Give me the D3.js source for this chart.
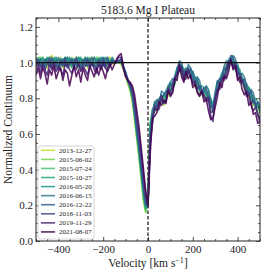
<!DOCTYPE html>
<html>
<head>
<meta charset="utf-8">
<script src="https://cdn.jsdelivr.net/npm/d3@7"></script>
<style>
  body { margin: 0; background: #fff; }
  text { font-family: "Liberation Serif", "DejaVu Serif", serif; fill: #222; }
</style>
</head>
<body>
<div class="chart"></div>
<script>
// velocity grid (km/s), 10 km/s steps
var velocity = [
  -500,-490,-480,-470,-460,-450,-440,-430,-420,-410,
  -400,-390,-380,-370,-360,-350,-340,-330,-320,-310,
  -300,-290,-280,-270,-260,-250,-240,-230,-220,-210,
  -200,-190,-180,-170,-160,-150,-140,-130,-120,-110,
  -100,-90,-80,-70,-60,-50,-40,-30,-20,-10,
  0,10,20,30,40,50,60,70,80,90,
  100,110,120,130,140,150,160,170,180,190,
  200,210,220,230,240,250,260,270,280,290,
  300,310,320,330,340,350,360,370,380,390,
  400,410,420,430,440,450,460,470,480,490,
  500
];

var epochs = ["2013-12-27","2015-06-02","2015-07-24","2015-10-27","2016-05-20",
              "2016-06-15","2016-12-22","2018-11-03","2019-11-29","2021-08-07"];

// continuum (-500..-160), line core (-150..0), red side (10..500)
var flux_20131227 = [
  1.02,0.98,1.01,1.03,0.99,0.97,1.02,1.04,0.99,0.98,
  1.02,1.00,0.97,1.01,1.03,1.00,0.98,1.01,1.03,0.99,
  0.98,1.02,1.00,0.97,1.01,1.03,1.00,0.98,1.01,1.02,
  0.99,0.98,1.02,1.03,0.99,
  1.00,1.00,1.00,0.99,0.96,0.92,0.88,0.84,0.78,0.68,0.57,0.46,0.34,0.22,0.16,0.24,
  0.64,0.74,0.72,0.77,0.75,0.80,0.76,0.82,0.81,0.86,
  0.84,0.90,0.92,0.98,0.94,0.93,0.91,0.95,0.92,0.92,
  0.86,0.88,0.84,0.84,0.80,0.83,0.79,0.77,0.72,0.80,
  0.84,0.89,0.89,0.94,0.95,0.99,0.99,1.00,0.96,0.96,
  0.90,0.90,0.85,0.86,0.80,0.81,0.76,0.77,0.72,0.73
];
var flux_20150602 = [
  0.99,1.03,0.99,0.98,1.02,0.99,1.03,1.00,0.97,1.02,
  0.99,1.03,0.98,1.02,1.00,0.98,1.03,1.01,0.99,0.97,
  1.02,0.99,1.03,1.00,0.98,1.02,0.99,1.03,0.98,1.00,
  1.02,0.99,0.97,1.02,1.00,
  1.01,1.00,1.01,1.00,0.97,0.93,0.89,0.85,0.79,0.69,0.58,0.47,0.35,0.23,0.16,0.25,
  0.65,0.70,0.77,0.74,0.79,0.78,0.81,0.79,0.86,0.83,
  0.89,0.88,0.96,0.95,0.98,0.91,0.96,0.93,0.95,0.90,
  0.91,0.86,0.88,0.82,0.85,0.81,0.83,0.75,0.76,0.78,
  0.88,0.86,0.93,0.92,0.99,0.97,1.02,0.98,0.99,0.93,
  0.95,0.88,0.90,0.83,0.85,0.78,0.81,0.75,0.77,0.71
];
var flux_20150724 = [
  0.98,1.02,1.03,0.99,0.98,1.02,1.00,0.98,1.03,0.99,
  1.02,0.98,1.00,1.03,1.01,0.99,0.97,1.01,1.02,1.03,
  0.99,0.98,1.02,1.00,1.03,0.99,0.98,1.02,1.03,0.99,
  0.98,1.02,1.00,0.99,1.02,
  1.00,1.01,1.00,1.00,0.97,0.93,0.89,0.85,0.80,0.70,0.59,0.48,0.36,0.24,0.17,0.26,
  0.67,0.74,0.73,0.75,0.79,0.82,0.77,0.80,0.86,0.88,
  0.85,0.88,0.95,1.00,0.94,0.91,0.96,0.97,0.92,0.90,
  0.91,0.90,0.84,0.82,0.85,0.85,0.79,0.75,0.76,0.83,
  0.84,0.87,0.93,0.96,0.95,0.97,1.02,1.02,0.96,0.94,
  0.95,0.92,0.86,0.84,0.85,0.83,0.77,0.75,0.77,0.74
];
var flux_20151027 = [
  1.02,0.99,1.02,0.98,1.00,1.03,0.98,1.02,0.99,1.02,
  0.98,1.00,1.02,0.98,1.03,0.99,1.02,0.98,1.00,1.02,
  1.03,0.99,0.98,1.02,1.00,0.98,1.03,0.99,1.02,0.98,
  1.02,1.03,0.99,0.98,1.02,
  1.00,1.00,1.01,1.01,0.97,0.94,0.90,0.86,0.81,0.71,0.60,0.50,0.38,0.26,0.18,0.24,
  0.65,0.71,0.74,0.79,0.80,0.79,0.78,0.84,0.87,0.84,
  0.86,0.93,0.97,0.96,0.95,0.96,0.97,0.94,0.92,0.95,
  0.92,0.87,0.85,0.87,0.86,0.82,0.80,0.80,0.77,0.79,
  0.85,0.91,0.94,0.93,0.96,1.02,1.03,0.99,0.97,0.98,
  0.96,0.89,0.87,0.88,0.86,0.80,0.78,0.80,0.78,0.72
];
var flux_20160520 = [
  0.99,1.02,0.98,1.03,0.99,1.02,1.00,0.98,1.02,1.03,
  0.99,0.98,1.02,1.00,1.03,1.01,0.98,1.02,0.99,1.03,
  0.98,1.02,1.00,1.03,1.01,0.99,0.98,1.02,1.00,1.03,
  0.99,0.98,1.02,1.00,1.03,
  1.01,1.01,1.00,1.02,0.98,0.94,0.90,0.87,0.82,0.72,0.61,0.51,0.39,0.27,0.19,0.22,
  0.63,0.70,0.78,0.79,0.77,0.79,0.82,0.81,0.87,0.89,
  0.86,0.89,0.97,0.97,0.99,0.96,0.93,0.94,0.97,0.91,
  0.92,0.91,0.85,0.83,0.86,0.82,0.84,0.80,0.73,0.80,
  0.89,0.88,0.94,0.97,0.96,0.98,1.03,0.99,1.01,0.99,
  0.92,0.89,0.91,0.85,0.86,0.84,0.78,0.76,0.78,0.72
];
var flux_20160615 = [
  1.03,0.99,1.02,1.00,0.98,1.02,1.03,0.99,1.02,0.98,
  1.03,0.99,1.02,0.98,1.00,1.03,0.99,1.02,0.98,1.00,
  1.02,0.99,1.03,0.98,1.02,0.99,1.03,1.00,0.98,1.02,
  1.03,0.99,1.02,0.98,1.00,
  1.00,1.01,1.01,1.02,0.98,0.95,0.91,0.88,0.83,0.73,0.62,0.52,0.40,0.28,0.20,0.21,
  0.60,0.73,0.78,0.76,0.77,0.84,0.83,0.81,0.84,0.89,
  0.91,0.90,0.94,1.01,1.00,0.93,0.94,0.99,0.97,0.92,
  0.89,0.92,0.90,0.84,0.83,0.87,0.85,0.77,0.74,0.84,
  0.90,0.88,0.91,0.98,1.01,0.99,1.00,1.04,1.02,0.95,
  0.93,0.94,0.92,0.85,0.83,0.85,0.83,0.77,0.75,0.76
];
var flux_20161222 = [
  0.99,1.02,0.99,0.97,1.02,1.00,0.98,1.03,0.99,1.01,
  0.97,1.02,0.99,1.03,0.98,1.00,1.02,0.98,1.03,0.99,
  0.98,1.01,1.02,0.98,1.00,1.03,0.99,0.97,1.02,1.00,
  0.98,1.02,1.03,0.99,1.02,
  1.00,1.00,1.01,1.01,0.97,0.94,0.90,0.87,0.82,0.73,0.63,0.53,0.42,0.30,0.21,0.21,
  0.59,0.72,0.73,0.79,0.76,0.79,0.82,0.84,0.83,0.88,
  0.86,0.89,0.97,1.00,0.95,0.96,0.93,0.94,0.96,0.95,
  0.88,0.91,0.85,0.83,0.86,0.86,0.80,0.79,0.72,0.79,
  0.89,0.91,0.90,0.97,0.96,0.98,1.04,1.03,0.97,0.98,
  0.92,0.89,0.91,0.88,0.82,0.84,0.78,0.76,0.78,0.76
];
var flux_20181103 = [
  0.98,1.01,0.97,1.00,0.96,0.99,1.02,0.97,1.00,0.98,
  0.96,1.01,0.98,1.02,0.97,0.99,1.01,0.97,1.02,0.98,
  0.96,1.00,0.98,1.02,0.97,1.00,0.98,0.96,1.01,0.98,
  1.02,0.97,1.00,0.98,1.01,
  1.00,1.00,1.01,1.02,0.97,0.93,0.90,0.87,0.83,0.75,0.66,0.56,0.45,0.33,0.23,0.20,
  0.55,0.67,0.76,0.74,0.79,0.82,0.77,0.79,0.86,0.83,
  0.89,0.92,0.93,0.96,0.98,0.91,0.96,0.97,0.92,0.89,
  0.90,0.85,0.87,0.85,0.81,0.80,0.81,0.72,0.73,0.81,
  0.84,0.86,0.92,0.91,0.98,1.01,1.00,0.98,1.00,0.93,
  0.94,0.91,0.86,0.82,0.83,0.77,0.79,0.77,0.71,0.68
];
var flux_20191129 = [
  0.96,0.99,0.94,0.99,0.96,0.93,0.99,0.96,1.00,0.95,
  0.98,0.96,0.93,0.99,0.99,0.96,0.94,0.98,0.96,1.00,
  0.95,0.98,0.96,0.93,0.98,1.00,0.96,0.94,0.99,0.96,
  1.00,0.97,0.95,0.98,1.00,
  1.00,1.01,1.03,1.03,0.97,0.93,0.90,0.88,0.86,0.79,0.70,0.60,0.49,0.37,0.26,0.19,
  0.55,0.66,0.75,0.73,0.74,0.81,0.78,0.78,0.85,0.82,
  0.84,0.91,0.94,0.95,0.97,0.90,0.91,0.96,0.93,0.88,
  0.89,0.84,0.82,0.84,0.82,0.78,0.80,0.70,0.67,0.80,
  0.85,0.85,0.91,0.90,0.93,1.00,1.01,0.97,0.99,0.92,
  0.89,0.90,0.87,0.81,0.82,0.76,0.73,0.75,0.71,0.66
];
var flux_20210807 = [
  0.93,0.97,0.91,0.97,0.94,0.88,0.96,0.93,0.98,0.91,
  0.95,0.97,0.90,0.96,0.94,0.87,0.93,0.98,0.92,0.96,
  0.89,0.97,0.93,0.90,0.98,0.95,0.92,0.97,0.93,0.98,
  0.95,0.91,0.97,0.99,0.96,
  0.99,1.02,1.04,1.05,0.98,0.92,0.90,0.89,0.87,0.82,0.73,0.64,0.52,0.40,0.28,0.20,
  0.49,0.69,0.70,0.72,0.78,0.76,0.79,0.77,0.84,0.81,
  0.83,0.91,0.90,0.99,0.92,0.89,0.95,0.91,0.93,0.86,
  0.88,0.83,0.81,0.84,0.78,0.80,0.73,0.68,0.69,0.75,
  0.81,0.89,0.86,0.93,0.91,0.95,1.02,0.96,0.98,0.90,
  0.92,0.85,0.82,0.84,0.76,0.78,0.71,0.72,0.66,0.67
];

var fluxes = [flux_20131227, flux_20150602, flux_20150724, flux_20151027, flux_20160520,
              flux_20160615, flux_20161222, flux_20181103, flux_20191129, flux_20210807];

var xMajorTicks = [-400, -200, 0, 200, 400];
var xTickLabels = ["\u2212400", "\u2212200", "0", "200", "400"];
var xMinorTicks = [-500,-450,-350,-300,-250,-150,-100,-50,50,100,150,250,300,350,450,500];
var yMajorTicks = [0, 0.2, 0.4, 0.6, 0.8, 1.0, 1.2];
var yTickLabels = ["0.0", "0.2", "0.4", "0.6", "0.8", "1.0", "1.2"];
var yMinorTicks = [0.05,0.1,0.15,0.25,0.3,0.35,0.45,0.5,0.55,0.65,0.7,0.75,0.85,0.9,0.95,1.05,1.1,1.15,1.25];

var svgWidth = 266;
var svgHeight = 275;
var margin = { top: 18, right: 6, bottom: 34, left: 36 };
var width = svgWidth - margin.left - margin.right;
var height = svgHeight - margin.top - margin.bottom;

var svg = d3.select(".chart")
  .append("svg")
  .attr("width", svgWidth)
  .attr("height", svgHeight)
  .style("display", "block");

svg.append("rect").attr("width", svgWidth).attr("height", svgHeight).attr("fill", "#fff");

var chartGroup = svg.append("g")
  .attr("transform", `translate(${margin.left}, ${margin.top})`);

var xScale = d3.scaleLinear().domain([-500, 500]).range([0, width]);
var yScale = d3.scaleLinear().domain([0, 1.25]).range([height, 0]);

// viridis from yellow-green down to dark purple
var color = d3.scaleSequential(d3.interpolateViridis).domain([0, 1]);
var colors = epochs.map(function(d, i) { return color(0.9 - i * 0.1); });

chartGroup.append("clipPath").attr("id", "clip")
  .append("rect").attr("width", width).attr("height", height);

var line = d3.line()
  .x(function(d) { return xScale(d[0]); })
  .y(function(d) { return yScale(d[1]); });

var plot = chartGroup.append("g").attr("clip-path", "url(#clip)");

fluxes.forEach(function(f, i) {
  var pts = f.map(function(val, j) { return [velocity[j], val]; });
  plot.append("path")
    .datum(pts)
    .attr("fill", "none")
    .attr("stroke", colors[i])
    .attr("stroke-width", 1.6)
    .attr("stroke-opacity", 0.85)
    .attr("stroke-linejoin", "round")
    .attr("d", line);
});

// continuum level and rest velocity
plot.append("line")
  .attr("x1", 0).attr("x2", width)
  .attr("y1", yScale(1)).attr("y2", yScale(1))
  .attr("stroke", "#111").attr("stroke-width", 1.3);

plot.append("line")
  .attr("x1", xScale(0)).attr("x2", xScale(0))
  .attr("y1", 0).attr("y2", height)
  .attr("stroke", "#333").attr("stroke-width", 1.4)
  .attr("stroke-dasharray", "3.5,2");

// axes with inward ticks on all sides
function styleAxis(g) {
  g.select(".domain").remove();
  g.selectAll(".tick line").attr("stroke", "#222").attr("stroke-width", 0.8);
  g.selectAll(".tick text")
    .style("font-family", "'Liberation Serif', serif")
    .style("font-size", "11px")
    .attr("fill", "#222");
}

chartGroup.append("g")
  .attr("transform", `translate(0, ${height})`)
  .call(d3.axisBottom(xScale).tickValues(xMajorTicks)
    .tickFormat(function(d, i) { return xTickLabels[i]; })
    .tickSizeInner(-4).tickSizeOuter(0).tickPadding(4))
  .call(styleAxis);
chartGroup.append("g")
  .attr("transform", `translate(0, ${height})`)
  .call(d3.axisBottom(xScale).tickValues(xMinorTicks).tickFormat("").tickSizeInner(-2).tickSizeOuter(0))
  .call(styleAxis);
chartGroup.append("g")
  .call(d3.axisTop(xScale).tickValues(xMajorTicks).tickFormat("").tickSizeInner(-4).tickSizeOuter(0))
  .call(styleAxis);
chartGroup.append("g")
  .call(d3.axisTop(xScale).tickValues(xMinorTicks).tickFormat("").tickSizeInner(-2).tickSizeOuter(0))
  .call(styleAxis);

chartGroup.append("g")
  .call(d3.axisLeft(yScale).tickValues(yMajorTicks)
    .tickFormat(function(d, i) { return yTickLabels[i]; })
    .tickSizeInner(-4).tickSizeOuter(0).tickPadding(3))
  .call(styleAxis);
chartGroup.append("g")
  .call(d3.axisLeft(yScale).tickValues(yMinorTicks).tickFormat("").tickSizeInner(-2).tickSizeOuter(0))
  .call(styleAxis);
chartGroup.append("g")
  .attr("transform", `translate(${width}, 0)`)
  .call(d3.axisRight(yScale).tickValues(yMajorTicks).tickFormat("").tickSizeInner(-4).tickSizeOuter(0))
  .call(styleAxis);
chartGroup.append("g")
  .attr("transform", `translate(${width}, 0)`)
  .call(d3.axisRight(yScale).tickValues(yMinorTicks).tickFormat("").tickSizeInner(-2).tickSizeOuter(0))
  .call(styleAxis);

chartGroup.append("rect")
  .attr("width", width).attr("height", height)
  .attr("fill", "none").attr("stroke", "#222").attr("stroke-width", 1);

// legend
var legend = chartGroup.append("g").attr("transform", "translate(2, 128)");
legend.append("rect")
  .attr("width", 56).attr("height", 93)
  .attr("rx", 2)
  .attr("fill", "#fff").attr("fill-opacity", 0.8)
  .attr("stroke", "#ccc").attr("stroke-width", 0.8);

epochs.forEach(function(d, i) {
  var yy = 4.3 + i * 9.07;
  legend.append("line")
    .attr("x1", 3).attr("x2", 17)
    .attr("y1", yy).attr("y2", yy)
    .attr("stroke", colors[i]).attr("stroke-width", 1.6).attr("stroke-opacity", 0.85);
  legend.append("text")
    .attr("x", 21).attr("y", yy + 2.4)
    .style("font-size", "7px")
    .text(d);
});

// titles
svg.append("text")
  .attr("x", margin.left + width / 2).attr("y", 14)
  .attr("text-anchor", "middle")
  .style("font-size", "11.5px")
  .text("5183.6 Mg I Plateau");

var xl = svg.append("text")
  .attr("x", margin.left + width / 2).attr("y", 267)
  .attr("text-anchor", "middle")
  .style("font-size", "11.5px");
xl.append("tspan").text("Velocity [km s");
xl.append("tspan").attr("dy", -4).style("font-size", "8px").text("\u22121");
xl.append("tspan").attr("dy", 4).text("]");

svg.append("text")
  .attr("transform", `translate(12, ${margin.top + height / 2}) rotate(-90)`)
  .attr("text-anchor", "middle")
  .style("font-size", "11.5px")
  .text("Normalized Continuum");
</script>
</body>
</html>
